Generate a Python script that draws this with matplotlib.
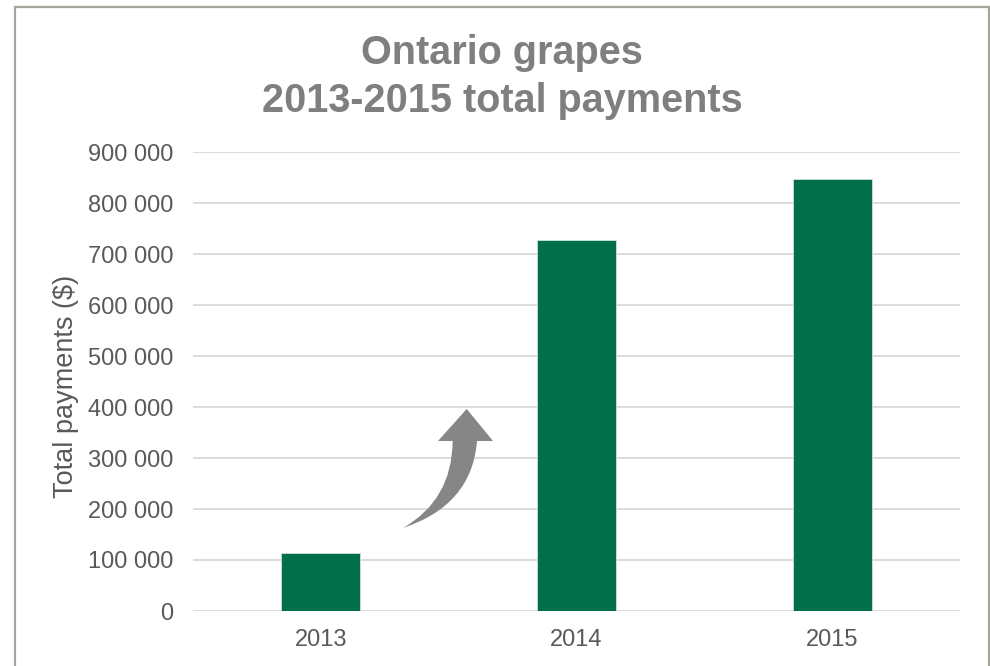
import matplotlib
matplotlib.use("Agg")
import matplotlib.pyplot as plt
from matplotlib.patches import PathPatch, Rectangle
from matplotlib.path import Path
from matplotlib.ticker import FuncFormatter, MultipleLocator

plt.rcParams['font.family'] = ['Liberation Sans', 'DejaVu Sans']

years = ['2013', '2014', '2015']
payments = [114000, 728000, 847000]

BAR_COLOR = '#006f4a'
TEXT_GRAY = '#595959'

W, H = 990, 666
fig = plt.figure(figsize=(W / 100, H / 100), dpi=100)
ax = fig.add_axes([193 / W, 1 - 611 / H, (960 - 193) / W, (611 - 152) / H])

x = range(len(years))
ax.bar(x, payments, width=0.31, color=BAR_COLOR, edgecolor='#cfe3da',
       linewidth=0.6, zorder=3)

ax.set_xlim(-0.5, len(years) - 0.5)
ax.set_ylim(0, 900000)
ax.yaxis.set_major_locator(MultipleLocator(100000))
ax.yaxis.set_major_formatter(FuncFormatter(lambda v, _: f"{int(v):,}".replace(',', ' ')))
ax.set_xticks(list(x))
ax.set_xticklabels(years)

ax.grid(axis='y', color='#d9d9d9', linewidth=1.3, zorder=0)
ax.set_axisbelow(True)
for s in ax.spines.values():
    s.set_visible(False)
ax.tick_params(axis='both', length=0, labelsize=17, labelcolor=TEXT_GRAY)
ax.tick_params(axis='y', pad=14)
ax.tick_params(axis='x', pad=13)
ax.set_ylabel('Total payments ($)', fontsize=19.5, color=TEXT_GRAY)
ax.yaxis.label.set_verticalalignment('center')
ax.yaxis.set_label_coords((66 - 193) / (960 - 193), 0.49)

fig.text(502 / W, 1 - 77 / H, 'Ontario grapes\n2013-2015 total payments',
         ha='center', va='center', fontsize=28.5, fontweight='bold',
         color='#7f7f7f', linespacing=1.33)

# curved "growth" arrow, drawn in pixel space then mapped to figure fraction
def px(xp, yp):
    return (xp / W, 1 - yp / H)

verts = [px(403, 528), px(452, 500), px(452.7, 441),
         px(438, 441), px(466.7, 409), px(493, 441),
         px(477, 441), px(472, 505), px(403, 528),
         px(403, 528)]
codes = [Path.MOVETO, Path.CURVE3, Path.CURVE3,
         Path.LINETO, Path.LINETO, Path.LINETO,
         Path.LINETO, Path.CURVE3, Path.CURVE3,
         Path.CLOSEPOLY]
arrow = PathPatch(Path(verts, codes), transform=fig.transFigure,
                  facecolor='#868686', edgecolor='none', zorder=5)
fig.patches.append(arrow)

# chart frame (open at the bottom edge)
frame = Rectangle(px(15, 700), (989 - 15) / W, (700 - 7) / H,
                  transform=fig.transFigure, fill=False,
                  edgecolor='#a3a69d', linewidth=1.6, clip_on=False)
fig.patches.append(frame)

fig.savefig('out.png', dpi=100)
